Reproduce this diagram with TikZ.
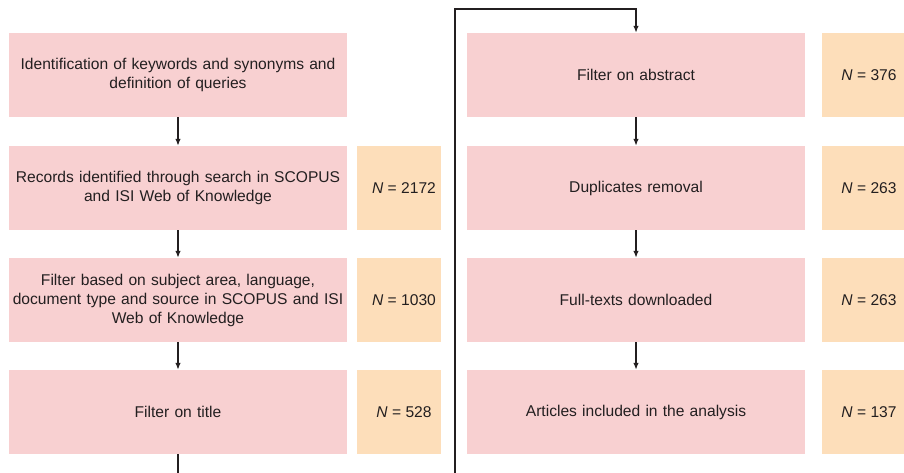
\documentclass[tikz,border=0pt]{standalone}
\usepackage{fontspec}
\setmainfont{Liberation Sans}
\usepackage{xcolor}
\usepackage{tikz}
\usetikzlibrary{arrows.meta}

\definecolor{stepPink}{RGB}{248,208,209}
\definecolor{countOrange}{RGB}{253,222,186}
\definecolor{inkGray}{RGB}{35,31,32}

\begin{document}
\begin{tikzpicture}[x=1pt, y=-1pt, >={Latex[length=7pt,width=5.5pt]},
    font=\fontsize{15.6}{19}\selectfont, text=inkGray,
    stepbox/.style={fill=stepPink, minimum width=338pt, minimum height=84pt,
        text width=338pt, align=center, inner sep=0pt},
    countbox/.style={fill=countOrange, minimum width=84pt, minimum height=84pt,
        inner sep=0pt, execute at begin node={\hskip 10pt}},
    flow/.style={->, draw=inkGray, line width=1.3pt}]

    % Parameters
    \def\xL{178}  % centre of left column
    \def\xLn{399} % centre of left counts
    \def\xR{636}  % centre of right column
    \def\xRn{864} % centre of right counts

    % Canvas
    \useasboundingbox (0,0) rectangle (904,473);
    \clip (0,0) rectangle (904,473);

    % Left column
    \node[stepbox] (ident) at (\xL,75) {Identification of keywords and synonyms and\\definition of queries};
    \node[stepbox] (search) at (\xL,188) {Records identified through search in SCOPUS\\and ISI Web of Knowledge};
    \node[stepbox] (subject) at (\xL,300) {Filter based on subject area, language,\\document type and source in SCOPUS and ISI\\Web of Knowledge};
    \node[stepbox] (title) at (\xL,412) {Filter on title};

    \node[countbox] (nsearch) at (\xLn,188) {\textit{N} = 2172};
    \node[countbox] (nsubject) at (\xLn,300) {\textit{N} = 1030};
    \node[countbox] (ntitle) at (\xLn,412) {\textit{N} = 528};

    % Right column
    \node[stepbox] (abstract) at (\xR,75) {Filter on abstract};
    \node[stepbox] (dupl) at (\xR,188) {Duplicates removal};
    \node[stepbox] (fulltext) at (\xR,300) {Full-texts downloaded};
    \node[stepbox] (incl) at (\xR,412) {Articles included in the analysis};

    \node[countbox] (nabstract) at (\xRn,75) {\textit{N} = 376};
    \node[countbox] (ndupl) at (\xRn,188) {\textit{N} = 263};
    \node[countbox] (nfulltext) at (\xRn,300) {\textit{N} = 263};
    \node[countbox] (nincl) at (\xRn,412) {\textit{N} = 137};

    % Arrows down the columns
    \draw[flow] (ident) -- (search);
    \draw[flow] (search) -- (subject);
    \draw[flow] (subject) -- (title);
    \draw[flow] (abstract) -- (dupl);
    \draw[flow] (dupl) -- (fulltext);
    \draw[flow] (fulltext) -- (incl);

    % Link from bottom of left column to top of right column
    \coordinate (under) at (455,500);
    \coordinate (over) at (455,9);
    \draw[flow] (title.south) |- (under) -- (over) -| (abstract.north);

\end{tikzpicture}
\end{document}
